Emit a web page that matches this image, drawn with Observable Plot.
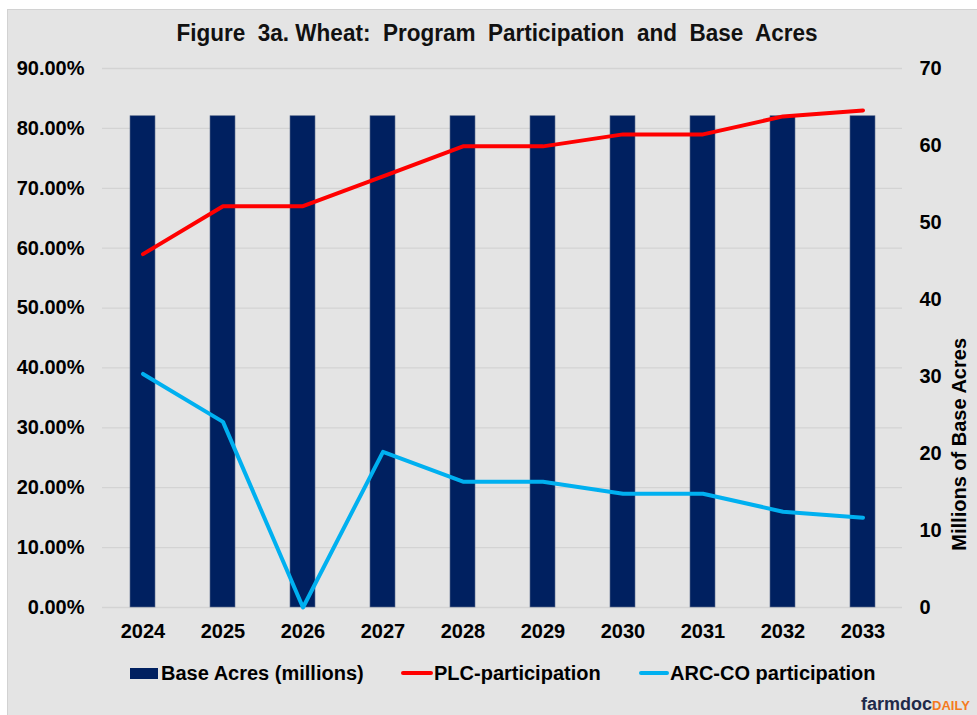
<!DOCTYPE html>
<html>
<head>
<meta charset="utf-8">
<script src="https://cdn.jsdelivr.net/npm/d3@7"></script>
<script src="https://cdn.jsdelivr.net/npm/@observablehq/plot@0.6"></script>
<style>
  html, body { margin: 0; padding: 0; background: #ffffff; }
  body { width: 977px; height: 715px; position: relative; overflow: hidden; font-family: "Liberation Sans", Arial, sans-serif; }
  #panel { position: absolute; left: 7px; top: 9px; width: 970px; height: 706px; background: #e4e4e4; border-left: 1px solid #d2d2d2; border-top: 1px solid #d2d2d2; box-sizing: border-box; }
  #title { position: absolute; top: 20px; left: 497px; white-space: nowrap; font-weight: bold; font-size: 23px; color: #111; transform-origin: center; }
  #chart { position: absolute; left: 0; top: 40px; }
  .leg { position: absolute; top: 661px; font-weight: bold; font-size: 20px; color: #000; white-space: nowrap; line-height: 24px; }
  .sw { position: absolute; }
  #logo { position: absolute; left: 861px; top: 694px; white-space: nowrap; font-family: "Liberation Sans", Arial, sans-serif; font-weight: bold; line-height: 20px; }
</style>
</head>
<body>
<div id="panel"></div>
<div id="title">Figure&nbsp; 3a. Wheat:&nbsp; Program&nbsp; Participation&nbsp; and&nbsp; Base&nbsp; Acres</div>
<div id="chart"></div>
<div class="sw" style="left:130px; top:668px; width:28px; height:11px; background:#002060;"></div>
<div class="leg" style="left:161px;">Base Acres (millions)</div>
<div class="sw" style="left:401px; top:671px; width:32px; height:4px; background:#ff0000; border-radius:2px;"></div>
<div class="leg" style="left:434px;">PLC-participation</div>
<div class="sw" style="left:639px; top:671px; width:30px; height:4px; background:#00b0f0; border-radius:2px;"></div>
<div class="leg" style="left:670px;">ARC-CO participation</div>
<div id="logo"><span style="color:#1f2a4a; font-size:18px;">farmdoc</span><span style="color:#f47b20; font-size:13px;">DAILY</span></div>
<script>
// ---- data ----
const years = ["2024","2025","2026","2027","2028","2029","2030","2031","2032","2033"];
const baseAcres = [63.8, 63.8, 63.8, 63.8, 63.8, 63.8, 63.8, 63.8, 63.8, 63.8];
const plcParticipation = [59, 67, 67, 72, 77, 77, 79, 79, 82, 83];
const arcParticipation = [39, 31, 0, 26, 21, 21, 19, 19, 16, 15];
const leftTicks = [0, 10, 20, 30, 40, 50, 60, 70, 80, 90];
const rightTicks = [0, 10, 20, 30, 40, 50, 60, 70];

const leftMax = 90, rightMax = 70;
const toLeft = v => v * leftMax / rightMax;

const rows = years.map((y, i) => ({year: y, acres: baseAcres[i], plc: plcParticipation[i], arc: arcParticipation[i]}));

const chart = Plot.plot({
  width: 977,
  height: 620,
  marginTop: 28,
  marginBottom: 53,
  marginLeft: 102,
  marginRight: 75,
  style: {background: "transparent", fontFamily: "'Liberation Sans', Arial, sans-serif", fontSize: "20px", fontWeight: "bold", color: "#000", overflow: "visible"},
  x: {type: "band", domain: years, paddingInner: 0.6875, paddingOuter: 0.34375, align: 0.5},
  y: {domain: [0, leftMax]},
  marks: [
    Plot.gridY(leftTicks, {stroke: "#d3d3d3", strokeOpacity: 1, strokeWidth: 1.3}),
    Plot.barY(rows, {x: "year", y: d => toLeft(d.acres), fill: "#002060", stroke: "#5a6b8c", strokeWidth: 0.6}),
    Plot.line(rows, {x: "year", y: "plc", stroke: "#ff0000", strokeWidth: 4, strokeLinejoin: "round", strokeLinecap: "round"}),
    Plot.line(rows, {x: "year", y: "arc", stroke: "#00b0f0", strokeWidth: 4, strokeLinejoin: "round", strokeLinecap: "round"}),
    Plot.axisY(leftTicks, {anchor: "left", tickSize: 0, tickPadding: 18, tickFormat: d => d.toFixed(2) + "%", label: null, fontSize: 20, fontWeight: "bold"}),
    Plot.axisY(rightTicks.map(toLeft), {anchor: "right", tickSize: 0, tickPadding: 17, tickFormat: v => String(Math.round(v * rightMax / leftMax)), label: null, fontSize: 20, fontWeight: "bold"}),
    Plot.axisX({tickSize: 0, tickPadding: 16, label: null, fontSize: 20, fontWeight: "bold"}),
    Plot.text(["Millions of Base Acres"], {frameAnchor: "right", dx: 57, rotate: -90, fontSize: 20, fontWeight: "bold", fill: "#000"})
  ]
});
document.getElementById("chart").appendChild(chart);

// fit title width to reference
const t = document.getElementById("title");
const w = t.getBoundingClientRect().width;
t.style.transform = `translateX(-50%) scaleX(${641 / w})`;
t.style.left = "497px";
</script>
</body>
</html>
